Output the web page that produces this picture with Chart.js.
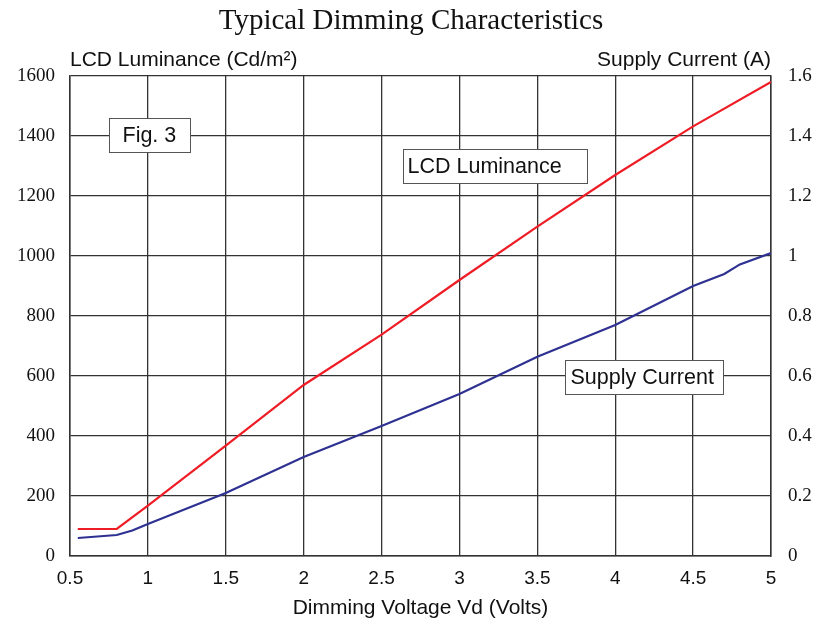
<!DOCTYPE html>
<html>
<head>
<meta charset="utf-8">
<script src="https://cdn.jsdelivr.net/npm/chart.js@4"></script>
<style>
  body { margin: 0; background: #fff; }
  #dimChart { display: block; }
</style>
</head>
<body>
<canvas id="dimChart" width="830" height="621"></canvas>
<script>
// dimming voltage (V) vs LCD luminance (cd/m2)
var lumVolts  = [0.55, 0.8, 1.0, 1.5, 2.0, 2.5, 3.0, 3.5, 4.0, 4.5, 5.0];
var lumValues = [90, 90, 168, 368, 570, 738, 920, 1098, 1270, 1432, 1580];

// dimming voltage (V) vs supply current (A)
var curVolts  = [0.55, 0.8, 0.9, 1.0, 1.5, 2.0, 2.5, 3.0, 3.5, 4.0, 4.5, 4.7, 4.8, 5.0];
var curValues = [0.06, 0.07, 0.085, 0.107, 0.21, 0.33, 0.433, 0.54, 0.664, 0.77, 0.9, 0.94, 0.972, 1.01];

// label boxes: text, left x (V), top y (cd/m2)
var boxTexts = ["Fig. 3", "LCD Luminance", "Supply Current"];
var boxX = [0.75, 2.635, 3.68];
var boxY = [1460, 1357, 653];
var boxW = [81, 184, 158];
var boxPad = [13, 4, 5];

var SANS = '"Liberation Sans", Arial, sans-serif';
var SERIF = '"Liberation Serif", "Times New Roman", serif';

var textPlugin = {
    id: 'textPlugin',
    afterDraw: function (chart) {
        var ctx = chart.ctx;
        var area = chart.chartArea;
        var xs = chart.scales.x, ys = chart.scales.y;
        ctx.save();
        ctx.fillStyle = '#111';
        ctx.font = '29px ' + SERIF;
        ctx.textAlign = 'center';
        ctx.textBaseline = 'middle';
        ctx.fillText('Typical Dimming Characteristics', 411, 21);

        ctx.font = '21px ' + SANS;
        ctx.textAlign = 'left';
        ctx.fillText('LCD Luminance (Cd/m\u00b2)', area.left, 60);
        ctx.textAlign = 'right';
        ctx.fillText('Supply Current (A)', area.right, 60);

        ctx.font = '21.5px ' + SANS;
        ctx.textAlign = 'left';
        for (var i = 0; i < boxTexts.length; i++) {
            var bx = Math.round(xs.getPixelForValue(boxX[i])) + 0.5;
            var by = Math.round(ys.getPixelForValue(boxY[i])) + 0.5;
            ctx.fillStyle = '#fff';
            ctx.fillRect(bx, by, boxW[i], 34);
            ctx.strokeStyle = '#555';
            ctx.lineWidth = 1;
            ctx.strokeRect(bx, by, boxW[i], 34);
            ctx.fillStyle = '#111';
            ctx.fillText(boxTexts[i], bx + boxPad[i], by + 18);
        }
        ctx.restore();
    }
};

var ctx = document.getElementById('dimChart').getContext('2d');
var dimChart = new Chart(ctx, {
    type: 'line',
    data: {
        datasets: [{
            label: 'LCD Luminance',
            data: lumVolts.map(function (v, i) { return {x: v, y: lumValues[i]}; }),
            borderColor: '#ee1c25',
            borderWidth: 2.2,
            pointRadius: 0,
            tension: 0,
            yAxisID: 'y'
        }, {
            label: 'Supply Current',
            data: curVolts.map(function (v, i) { return {x: v, y: curValues[i]}; }),
            borderColor: '#2e3192',
            borderWidth: 2.2,
            pointRadius: 0,
            tension: 0,
            yAxisID: 'y1'
        }]
    },
    options: {
        responsive: false,
        animation: false,
        layout: { padding: { top: 76, right: 0, left: 0, bottom: 0 } },
        plugins: {
            legend: { display: false },
            tooltip: { enabled: false }
        },
        scales: {
            x: {
                type: 'linear',
                min: 0.5, max: 5,
                ticks: {
                    stepSize: 0.5,
                    color: '#111',
                    padding: 11,
                    font: { family: SANS, size: 19 },
                    callback: function (v) { return String(+v.toFixed(1)); }
                },
                grid: { color: '#333', lineWidth: 1.3, drawTicks: false },
                border: { color: '#333', width: 1.5 },
                title: {
                    display: true,
                    text: 'Dimming Voltage Vd (Volts)',
                    color: '#111',
                    padding: { top: 4, bottom: 0 },
                    font: { family: SANS, size: 21 }
                },
                afterFit: function (s) { s.height = 65; }
            },
            y: {
                position: 'left',
                min: 0, max: 1600,
                ticks: {
                    stepSize: 200,
                    color: '#111',
                    padding: 15,
                    font: { family: SERIF, size: 19 },
                    callback: function (v) { return String(v); }
                },
                grid: { color: '#333', lineWidth: 1.3, drawTicks: false },
                border: { color: '#333', width: 1.5 },
                afterFit: function (s) { s.width = 70; }
            },
            y1: {
                position: 'right',
                min: 0, max: 1.6,
                ticks: {
                    stepSize: 0.2,
                    color: '#111',
                    padding: 17,
                    font: { family: SERIF, size: 19 },
                    callback: function (v) { return String(+v.toFixed(1)); }
                },
                grid: { display: false, drawTicks: false },
                border: { color: '#333', width: 1.5 },
                afterFit: function (s) { s.width = 59; }
            }
        }
    },
    plugins: [textPlugin]
});
</script>
</body>
</html>
